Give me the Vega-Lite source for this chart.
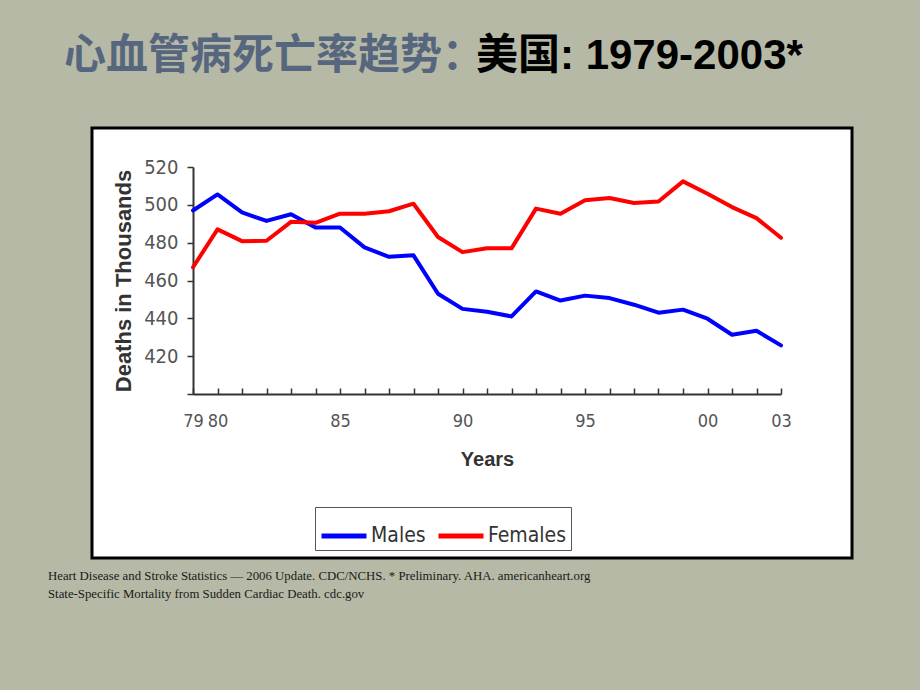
{
  "$schema": "https://vega.github.io/schema/vega-lite/v6.json",
  "background": "#b5b9a5",
  "padding": {"left": 48, "top": 35, "right": 68, "bottom": 90},
  "autosize": {"type": "pad"},
  "spacing": 38,
  "title": {
    "text": ["Heart Disease and Stroke Statistics — 2006 Update. CDC/NCHS. * Preliminary. AHA. americanheart.org", "State-Specific Mortality from Sudden Cardiac Death. cdc.gov"],
    "orient": "bottom", "anchor": "start", "frame": "group", "dx": -44, "offset": 10,
    "font": "Liberation Serif", "fontSize": 12.8, "fontWeight": "normal", "color": "#1a1a1a", "lineHeight": 18
  },
  "datasets": {
    "deaths": [
      {"year": 1979, "sex": "Males", "deaths": 497},
      {"year": 1980, "sex": "Males", "deaths": 505.5},
      {"year": 1981, "sex": "Males", "deaths": 496},
      {"year": 1982, "sex": "Males", "deaths": 491.5},
      {"year": 1983, "sex": "Males", "deaths": 495},
      {"year": 1984, "sex": "Males", "deaths": 488},
      {"year": 1985, "sex": "Males", "deaths": 488},
      {"year": 1986, "sex": "Males", "deaths": 477.5},
      {"year": 1987, "sex": "Males", "deaths": 472.5},
      {"year": 1988, "sex": "Males", "deaths": 473.3},
      {"year": 1989, "sex": "Males", "deaths": 453},
      {"year": 1990, "sex": "Males", "deaths": 445},
      {"year": 1991, "sex": "Males", "deaths": 443.5},
      {"year": 1992, "sex": "Males", "deaths": 441},
      {"year": 1993, "sex": "Males", "deaths": 454.2},
      {"year": 1994, "sex": "Males", "deaths": 449.4},
      {"year": 1995, "sex": "Males", "deaths": 452},
      {"year": 1996, "sex": "Males", "deaths": 450.7},
      {"year": 1997, "sex": "Males", "deaths": 447.2},
      {"year": 1998, "sex": "Males", "deaths": 443},
      {"year": 1999, "sex": "Males", "deaths": 444.6},
      {"year": 2000, "sex": "Males", "deaths": 439.8},
      {"year": 2001, "sex": "Males", "deaths": 431.3},
      {"year": 2002, "sex": "Males", "deaths": 433.4},
      {"year": 2003, "sex": "Males", "deaths": 425.7},
      {"year": 1979, "sex": "Females", "deaths": 467},
      {"year": 1980, "sex": "Females", "deaths": 487},
      {"year": 1981, "sex": "Females", "deaths": 480.8},
      {"year": 1982, "sex": "Females", "deaths": 481},
      {"year": 1983, "sex": "Females", "deaths": 491},
      {"year": 1984, "sex": "Females", "deaths": 490.5},
      {"year": 1985, "sex": "Females", "deaths": 495.3},
      {"year": 1986, "sex": "Females", "deaths": 495.3},
      {"year": 1987, "sex": "Females", "deaths": 496.6},
      {"year": 1988, "sex": "Females", "deaths": 500.6},
      {"year": 1989, "sex": "Females", "deaths": 483},
      {"year": 1990, "sex": "Females", "deaths": 475},
      {"year": 1991, "sex": "Females", "deaths": 477},
      {"year": 1992, "sex": "Females", "deaths": 477},
      {"year": 1993, "sex": "Females", "deaths": 498},
      {"year": 1994, "sex": "Females", "deaths": 495.3},
      {"year": 1995, "sex": "Females", "deaths": 502.4},
      {"year": 1996, "sex": "Females", "deaths": 503.6},
      {"year": 1997, "sex": "Females", "deaths": 501},
      {"year": 1998, "sex": "Females", "deaths": 501.8},
      {"year": 1999, "sex": "Females", "deaths": 512.4},
      {"year": 2000, "sex": "Females", "deaths": 505.9},
      {"year": 2001, "sex": "Females", "deaths": 498.8},
      {"year": 2002, "sex": "Females", "deaths": 493},
      {"year": 2003, "sex": "Females", "deaths": 482.6}
    ]
  },
  "vconcat": [
    {
      "hconcat": [
        {
          "width": 384, "height": 10,
          "data": {"values": [{}]},
          "mark": {"type": "point", "opacity": 0},
          "view": {"stroke": null, "fill": null},
          "title": {"text": "心血管病死亡率趋势：", "anchor": "start", "frame": "group", "dx": -28, "offset": 0,
            "font": "Noto Sans CJK SC", "fontSize": 42, "fontWeight": "bold", "color": "#56667e"}
        },
        {
          "width": 376, "height": 10,
          "data": {"values": [{}]},
          "mark": {"type": "point", "opacity": 0},
          "view": {"stroke": null, "fill": null},
          "title": {"text": "美国: 1979-2003*", "anchor": "start", "frame": "group", "dx": 0, "offset": 0,
            "font": "Liberation Sans, Noto Sans CJK SC", "fontSize": 42, "fontWeight": "bold", "color": "#000000"}
        }
      ],
      "spacing": 0,
      "bounds": "flush"
    },
    {
      "width": 760, "height": 430,
      "view": {"fill": "#ffffff", "stroke": "#000000", "strokeWidth": 3},
      "data": {"name": "deaths"},
      "mark": {"type": "line", "strokeWidth": 4, "strokeJoin": "round", "strokeCap": "round"},
      "encoding": {
        "x": {
          "field": "year", "type": "quantitative",
          "scale": {"domain": [1979, 2003], "range": [101, 689], "nice": false, "zero": false},
          "axis": {
            "title": "Years",
            "values": [1979,1980,1981,1982,1983,1984,1985,1986,1987,1988,1989,1990,1991,1992,1993,1994,1995,1996,1997,1998,1999,2000,2001,2002,2003],
            "labelExpr": "indexof([1979,1980,1985,1990,1995,2000,2003], datum.value) >= 0 ? substring(toString(datum.value), 2) : ''",
            "offset": -164, "tickSize": -6, "tickColor": "#333333", "tickWidth": 1.5,
            "domainColor": "#333333", "domainWidth": 2, "grid": false,
            "labelFont": "Liberation Sans Narrow, Arial Narrow, DejaVu Sans Condensed, Liberation Sans",
            "labelFontSize": 18, "labelColor": "#555555", "labelPadding": 24, "labelOverlap": false, "labelFlush": false,
            "titleFont": "Liberation Sans", "titleFontSize": 20, "titleFontWeight": "bold", "titleColor": "#333333", "titlePadding": 19
          }
        },
        "y": {
          "field": "deaths", "type": "quantitative",
          "scale": {"domain": [400, 520], "range": [266, 39], "nice": false, "zero": false},
          "axis": {
            "title": "Deaths in Thousands",
            "values": [400, 420, 440, 460, 480, 500, 520],
            "labelExpr": "datum.value == 400 ? '' : datum.label",
            "offset": -101, "tickSize": 6, "tickColor": "#333333", "tickWidth": 1.5,
            "domainColor": "#333333", "domainWidth": 2, "grid": false,
            "labelFont": "Liberation Sans Narrow, Arial Narrow, DejaVu Sans Condensed, Liberation Sans",
            "labelFontSize": 20, "labelColor": "#555555", "labelPadding": 9,
            "titleFont": "Liberation Sans", "titleFontSize": 22, "titleFontWeight": "bold", "titleColor": "#333333", "titlePadding": 8
          }
        },
        "color": {
          "field": "sex", "type": "nominal",
          "scale": {"domain": ["Males", "Females"], "range": ["#0000ff", "#ff0000"]},
          "legend": {
            "title": null, "orient": "none", "direction": "horizontal", "legendX": 223, "legendY": 429,
            "symbolType": "stroke", "symbolSize": 2025, "symbolStrokeWidth": 5,
            "labelFont": "Liberation Sans Narrow, Arial Narrow, DejaVu Sans Condensed, Liberation Sans",
            "labelFontSize": 21, "labelColor": "#333333", "labelOffset": 2, "columnPadding": 2,
            "strokeColor": "#555555", "fillColor": "#ffffff", "padding": 4
          }
        }
      }
    }
  ]
}
